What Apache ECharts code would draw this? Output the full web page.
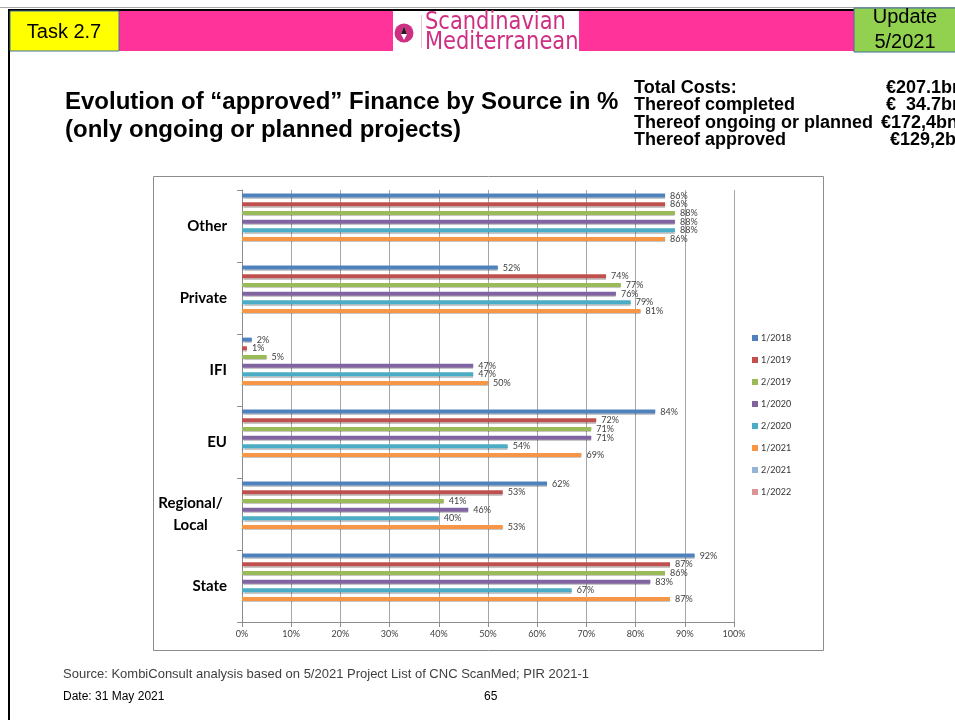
<!DOCTYPE html>
<html>
<head>
<meta charset="utf-8">
<script src="https://cdn.jsdelivr.net/npm/echarts@6/dist/echarts.min.js"></script>
<style>
  html, body { margin: 0; padding: 0; background: #fff; }
  #chart { width: 955px; height: 720px; }
</style>
</head>
<body>
<div id="chart"></div>
<script>
// Funding sources (top to bottom)
const categories = ['Other', 'Private', 'IFI', 'EU', 'Regional/\nLocal', 'State'];

// Share of approved finance per source, in %, for each list edition
const seriesNames = ['1/2018', '1/2019', '2/2019', '1/2020', '2/2020', '1/2021', '2/2021', '1/2022'];
const v2018a = [86, 52, 2, 84, 62, 92];
const v2019a = [86, 74, 1, 72, 53, 87];
const v2019b = [88, 77, 5, 71, 41, 86];
const v2020a = [88, 76, 47, 71, 46, 83];
const v2020b = [88, 79, 47, 54, 40, 67];
const v2021a = [86, 81, 50, 69, 53, 87];
const v2021b = [];
const v2022a = [];

// Summary figures shown beside the title
const totalLabels = ['Total Costs:', 'Thereof completed', 'Thereof ongoing or planned', 'Thereof approved'];
const totalValues = ['€207.1bn', '€  34.7bn', '€172,4bn', '€129,2bn'];

const palette = ['#4F81BD', '#C0504D', '#9BBB59', '#8064A2', '#4BACC6', '#F79646', '#95B3D7', '#D99694'];
const seriesData = [v2018a, v2019a, v2019b, v2020a, v2020b, v2021a, v2021b, v2022a];

const chart = echarts.init(document.getElementById('chart'), null, { renderer: 'canvas' });

const labelFont = 'Lato, "Open Sans", sans-serif';
const arial = '"Liberation Sans", Arial, sans-serif';
const logoPink = '#CF2F82';

const series = seriesNames.map((name, i) => ({
  name: name,
  type: 'bar',
  data: seriesData[i],
  barWidth: 4,
  barGap: '117%',
  itemStyle: {
    color: palette[i],
    shadowColor: 'rgba(0,0,0,0.22)',
    shadowBlur: 1,
    shadowOffsetY: 1.2
  },
  label: {
    show: true,
    position: 'right',
    distance: 5,
    formatter: '{c}%',
    fontSize: 9,
    fontFamily: labelFont,
    color: '#404040'
  },
  animation: false
}));

function txt(x, y, text, extra, scaleX) {
  const el = {
    type: 'text', x: x, y: y, silent: true,
    style: Object.assign({
      text: text, fontFamily: arial, fill: '#000',
      textVerticalAlign: 'middle', verticalAlign: 'middle'
    }, extra)
  };
  if (scaleX) el.scaleX = scaleX;
  return el;
}

// Slide decoration: header band, logo, summary block, footer
const graphics = [
  // top rules and left border
  { type: 'rect', shape: { x: 0, y: 7, width: 955, height: 1 }, style: { fill: '#a8a8a8' }, silent: true },
  { type: 'rect', shape: { x: 8, y: 9, width: 947, height: 2 }, style: { fill: '#000' }, silent: true },
  { type: 'rect', shape: { x: 8, y: 9, width: 2, height: 711 }, style: { fill: '#000' }, silent: true },
  // pink band
  { type: 'rect', shape: { x: 119, y: 11, width: 736, height: 40 }, style: { fill: '#FF3399' }, silent: true },
  // task box
  { type: 'rect', shape: { x: 10, y: 11, width: 109, height: 40 }, style: { fill: '#FFFF00', stroke: '#41719C', lineWidth: 1 }, silent: true },
  txt(64, 32, 'Task 2.7', { fontSize: 20, textAlign: 'center', align: 'center' }),
  // update box
  { type: 'rect', shape: { x: 854, y: 8, width: 102, height: 44 }, style: { fill: '#92D050', stroke: '#41719C', lineWidth: 1 }, silent: true },
  txt(905, 17, 'Update', { fontSize: 20, textAlign: 'center', align: 'center' }),
  txt(905, 42, '5/2021', { fontSize: 20, textAlign: 'center', align: 'center' }),
  // logo
  { type: 'rect', shape: { x: 393, y: 11, width: 186, height: 41 }, style: { fill: '#fff' }, silent: true },
  { type: 'circle', shape: { cx: 404, cy: 33, r: 9.5 }, style: { fill: logoPink }, silent: true },
  { type: 'polygon', shape: { points: [[404, 26], [407, 34], [404, 40], [401, 34]] }, style: { fill: '#fff' }, silent: true },
  { type: 'polygon', shape: { points: [[404, 26], [407, 34], [401, 34]] }, style: { fill: '#2a1a22' }, silent: true },
  { type: 'rect', shape: { x: 421, y: 15, width: 1, height: 33 }, style: { fill: '#efc0d8' }, silent: true },
  txt(425, 22, 'Scandinavian', { fontSize: 25, fontFamily: '"DejaVu Sans", sans-serif', fill: logoPink }, 0.84),
  txt(425, 42, 'Mediterranean', { fontSize: 25, fontFamily: '"DejaVu Sans", sans-serif', fill: logoPink }, 0.84),
  // chart frame
  { type: 'rect', shape: { x: 153.5, y: 176.5, width: 670, height: 474 }, style: { fill: 'none', stroke: '#8c8c8c', lineWidth: 1 }, silent: true, z: -1 },
  // footer
  txt(63, 674, 'Source: KombiConsult analysis based on 5/2021 Project List of CNC ScanMed; PIR 2021-1', { fontSize: 13, fill: '#404040' }),
  txt(63, 697, 'Date: 31 May 2021', { fontSize: 12 }),
  txt(484, 697, '65', { fontSize: 12 })
];

const valueX = [886, 886, 881, 890];
totalLabels.forEach((t, i) => {
  const y = 88 + i * 17.5;
  graphics.push(txt(634, y, t, { fontSize: 18, fontWeight: 'bold' }));
  graphics.push(txt(valueX[i], y, totalValues[i], { fontSize: 18, fontWeight: 'bold' }));
});

const option = {
  animation: false,
  backgroundColor: '#fff',
  title: {
    text: 'Evolution of “approved” Finance by Source in %\n(only ongoing or planned projects)',
    left: 60,
    top: 83,
    textStyle: { fontSize: 24, fontWeight: 'bold', fontFamily: arial, color: '#000', lineHeight: 28 }
  },
  legend: {
    orient: 'vertical',
    left: 747,
    top: 327,
    data: seriesNames,
    icon: 'rect',
    itemWidth: 6,
    itemHeight: 6,
    itemGap: 10,
    textStyle: { fontSize: 9, fontFamily: labelFont, color: '#333', lineHeight: 12, padding: [0, 0, 0, -2] },
    selectedMode: false
  },
  grid: { left: 242, right: 221, top: 190, bottom: 98, containLabel: false },
  xAxis: {
    type: 'value',
    min: 0,
    max: 100,
    interval: 10,
    axisLine: { show: true, lineStyle: { color: '#8c8c8c' } },
    axisTick: { show: true, length: 5, lineStyle: { color: '#8c8c8c' } },
    axisLabel: { formatter: '{value}%', fontSize: 9, fontFamily: labelFont, color: '#404040', margin: 8 },
    splitLine: { show: true, lineStyle: { color: '#a6a6a6', width: 1 } }
  },
  yAxis: {
    type: 'category',
    data: categories,
    inverse: true,
    axisLine: { show: true, lineStyle: { color: '#8c8c8c' } },
    axisTick: { show: true, length: 5, lineStyle: { color: '#8c8c8c' } },
    axisLabel: {
      margin: 15,
      fontSize: 15,
      fontWeight: 'bold',
      fontFamily: labelFont,
      color: '#000',
      lineHeight: 22,
      formatter: function (v) {
        if (v.indexOf('\n') >= 0) {
          return v.split('\n').map(s => '{c|' + s + '}').join('\n');
        }
        return v;
      },
      rich: {
        c: { width: 73, align: 'center', fontSize: 15, fontWeight: 'bold', fontFamily: labelFont, color: '#000', lineHeight: 22 }
      }
    }
  },
  series: series,
  graphic: graphics
};

chart.setOption(option);
</script>
</body>
</html>
